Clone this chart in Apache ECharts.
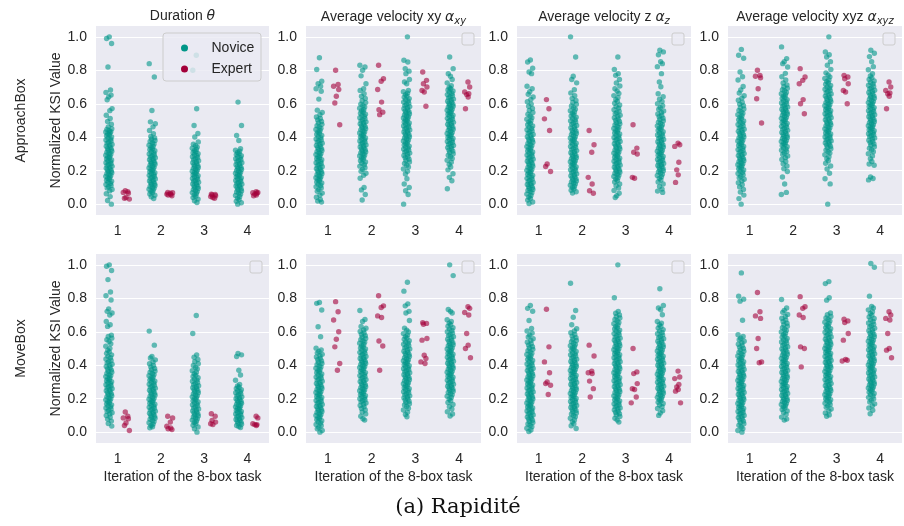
<!DOCTYPE html>
<html><head><meta charset="utf-8">
<script src="https://cdn.jsdelivr.net/npm/echarts@6/dist/echarts.min.js"></script>
<style>html,body{margin:0;padding:0;background:#fff}#c{width:904px;height:526px}</style>
</head><body><div id="c"></div>
<script>
const categories = ['1', '2', '3', '4'];
const yTicks = [0, 0.2, 0.4, 0.6, 0.8, 1.0];
const groups = ['Novice', 'Expert'];
const columnTitles = ['Duration {m|θ}', 'Average velocity xy {m|α}{s|xy}', 'Average velocity z {m|α}{s|z}', 'Average velocity xyz {m|α}{s|xyz}'];
const rowLabels = ['ApproachBox', 'MoveBox'];
const xAxisTitle = 'Iteration of the 8-box task';
const yAxisTitle = 'Normalized KSI Value';
const caption = '(a) Rapidité';

// ---- ApproachBox ----
const approachDurationNovice = [
 [1.0,0.99,0.96,0.82,0.683,0.668,0.652,0.641,0.624,0.571,0.559,0.531,0.512,0.494,0.478,0.462,0.451,0.446,0.439,0.433,0.431,0.427,0.42,0.414,0.409,0.401,0.396,0.388,0.383,0.377,0.37,0.364,0.357,0.352,0.346,0.339,0.333,0.328,0.321,0.316,0.31,0.303,0.298,0.292,0.287,0.281,0.276,0.27,0.264,0.259,0.253,0.248,0.242,0.237,0.231,0.226,0.22,0.215,0.209,0.204,0.198,0.193,0.188,0.182,0.177,0.171,0.166,0.16,0.154,0.149,0.143,0.137,0.131,0.124,0.118,0.111,0.104,0.097,0.088,0.079,0.062,0.045,0.022,0.0],
 [0.84,0.76,0.56,0.492,0.481,0.462,0.44,0.421,0.404,0.396,0.389,0.381,0.374,0.366,0.36,0.352,0.345,0.339,0.331,0.326,0.319,0.313,0.306,0.3,0.294,0.288,0.282,0.277,0.271,0.265,0.26,0.254,0.249,0.243,0.238,0.232,0.227,0.221,0.216,0.21,0.205,0.199,0.194,0.188,0.183,0.177,0.172,0.166,0.161,0.155,0.15,0.144,0.139,0.133,0.128,0.122,0.117,0.111,0.106,0.1,0.095,0.089,0.083,0.076,0.069,0.061,0.053,0.044,0.034],
 [0.89,0.8,0.57,0.47,0.422,0.401,0.372,0.358,0.349,0.341,0.334,0.327,0.32,0.313,0.307,0.301,0.295,0.289,0.283,0.277,0.271,0.265,0.259,0.253,0.247,0.242,0.236,0.23,0.225,0.219,0.214,0.208,0.203,0.197,0.192,0.186,0.181,0.175,0.17,0.164,0.159,0.153,0.148,0.142,0.137,0.131,0.126,0.12,0.115,0.109,0.104,0.098,0.093,0.087,0.081,0.075,0.069,0.062,0.055,0.047,0.039,0.03,0.02,0.01],
 [0.61,0.47,0.41,0.38,0.331,0.322,0.316,0.309,0.302,0.296,0.289,0.283,0.277,0.271,0.265,0.259,0.253,0.247,0.241,0.235,0.229,0.224,0.218,0.212,0.207,0.201,0.196,0.19,0.185,0.179,0.174,0.168,0.163,0.157,0.152,0.146,0.141,0.135,0.13,0.124,0.119,0.113,0.108,0.102,0.097,0.091,0.085,0.079,0.073,0.066,0.059,0.052,0.044,0.036,0.027,0.017,0.008,0.0]
];
const approachDurationExpert = [
 [0.08,0.075,0.07,0.065,0.04,0.035,0.03],
 [0.07,0.068,0.065,0.06,0.058,0.055,0.05],
 [0.06,0.058,0.055,0.05,0.045,0.04,0.035],
 [0.075,0.07,0.068,0.065,0.06,0.055,0.05]
];
const approachVelXYNovice = [
 [0.875,0.805,0.735,0.72,0.705,0.69,0.675,0.628,0.562,0.548,0.534,0.521,0.512,0.503,0.494,0.486,0.477,0.469,0.461,0.453,0.446,0.439,0.432,0.425,0.418,0.411,0.404,0.397,0.39,0.384,0.377,0.371,0.364,0.358,0.351,0.345,0.339,0.332,0.326,0.32,0.314,0.308,0.302,0.296,0.29,0.284,0.278,0.272,0.266,0.26,0.254,0.248,0.242,0.236,0.23,0.224,0.218,0.212,0.206,0.2,0.194,0.188,0.182,0.176,0.17,0.164,0.158,0.152,0.146,0.14,0.133,0.126,0.119,0.112,0.104,0.096,0.087,0.077,0.066,0.054,0.041,0.028,0.018,0.012],
 [0.83,0.82,0.8,0.767,0.72,0.69,0.68,0.66,0.645,0.632,0.618,0.607,0.598,0.589,0.581,0.573,0.565,0.558,0.551,0.544,0.537,0.53,0.524,0.517,0.511,0.504,0.498,0.492,0.486,0.48,0.474,0.468,0.462,0.456,0.45,0.444,0.438,0.432,0.426,0.42,0.414,0.408,0.402,0.396,0.39,0.384,0.378,0.372,0.366,0.36,0.354,0.348,0.342,0.336,0.33,0.324,0.318,0.312,0.306,0.3,0.294,0.288,0.281,0.274,0.267,0.26,0.252,0.244,0.236,0.227,0.218,0.208,0.197,0.185,0.172,0.155,0.1,0.085,0.058,0.025],
 [1.0,0.86,0.85,0.81,0.795,0.78,0.745,0.73,0.72,0.68,0.672,0.663,0.655,0.647,0.639,0.631,0.624,0.617,0.61,0.603,0.596,0.589,0.583,0.576,0.57,0.563,0.557,0.551,0.545,0.539,0.533,0.527,0.521,0.515,0.509,0.503,0.497,0.491,0.485,0.479,0.473,0.467,0.461,0.455,0.449,0.443,0.437,0.431,0.425,0.419,0.413,0.407,0.401,0.395,0.389,0.383,0.377,0.371,0.365,0.359,0.353,0.347,0.341,0.335,0.329,0.323,0.317,0.311,0.305,0.298,0.291,0.284,0.277,0.269,0.261,0.252,0.243,0.233,0.222,0.21,0.196,0.18,0.152,0.12,0.1,0.08,0.058,0.0],
 [0.88,0.81,0.78,0.765,0.745,0.725,0.708,0.698,0.69,0.683,0.676,0.669,0.662,0.655,0.648,0.641,0.635,0.628,0.622,0.615,0.609,0.603,0.597,0.591,0.585,0.579,0.573,0.567,0.561,0.555,0.549,0.543,0.537,0.531,0.525,0.519,0.513,0.507,0.501,0.495,0.489,0.483,0.477,0.471,0.465,0.459,0.453,0.447,0.441,0.435,0.429,0.423,0.417,0.411,0.405,0.399,0.393,0.387,0.381,0.375,0.369,0.363,0.357,0.351,0.345,0.338,0.331,0.324,0.317,0.309,0.301,0.292,0.283,0.273,0.262,0.25,0.237,0.222,0.205,0.182,0.16,0.14,0.092]
];
const approachVelXYExpert = [
 [0.8,0.715,0.705,0.685,0.645,0.605,0.475],
 [0.83,0.75,0.735,0.685,0.61,0.565,0.55,0.535],
 [0.79,0.74,0.72,0.7,0.68,0.67,0.585],
 [0.73,0.7,0.67,0.66,0.655,0.64,0.57]
];
const approachVelZNovice = [
 [0.862,0.85,0.812,0.79,0.78,0.705,0.69,0.672,0.657,0.641,0.626,0.612,0.598,0.585,0.572,0.56,0.548,0.537,0.527,0.517,0.508,0.499,0.491,0.483,0.475,0.467,0.459,0.452,0.445,0.438,0.431,0.424,0.417,0.41,0.403,0.396,0.389,0.383,0.376,0.37,0.363,0.357,0.35,0.344,0.337,0.331,0.324,0.318,0.312,0.305,0.299,0.293,0.287,0.28,0.274,0.268,0.262,0.256,0.25,0.244,0.238,0.232,0.226,0.22,0.214,0.208,0.202,0.196,0.19,0.184,0.178,0.172,0.166,0.16,0.154,0.148,0.142,0.136,0.13,0.124,0.118,0.112,0.106,0.1,0.094,0.088,0.082,0.075,0.068,0.06,0.052,0.043,0.034,0.024,0.013,0.004],
 [1.0,0.88,0.765,0.745,0.725,0.684,0.665,0.648,0.632,0.62,0.608,0.597,0.587,0.577,0.568,0.559,0.551,0.543,0.535,0.527,0.52,0.512,0.505,0.498,0.491,0.484,0.477,0.47,0.463,0.456,0.449,0.442,0.436,0.429,0.422,0.416,0.409,0.403,0.396,0.39,0.383,0.377,0.37,0.364,0.358,0.351,0.345,0.339,0.332,0.326,0.32,0.314,0.307,0.301,0.295,0.289,0.283,0.277,0.271,0.265,0.259,0.253,0.247,0.241,0.235,0.229,0.223,0.217,0.211,0.205,0.199,0.193,0.187,0.181,0.175,0.169,0.163,0.157,0.151,0.145,0.139,0.133,0.127,0.12,0.113,0.106,0.099,0.091,0.083,0.074,0.066],
 [0.88,0.805,0.78,0.77,0.745,0.724,0.706,0.69,0.676,0.662,0.649,0.637,0.625,0.614,0.603,0.593,0.583,0.574,0.565,0.556,0.548,0.54,0.532,0.524,0.516,0.509,0.501,0.494,0.487,0.48,0.473,0.466,0.459,0.452,0.445,0.439,0.432,0.425,0.419,0.412,0.406,0.399,0.393,0.386,0.38,0.374,0.367,0.361,0.355,0.348,0.342,0.336,0.33,0.323,0.317,0.311,0.305,0.299,0.293,0.287,0.281,0.275,0.269,0.263,0.257,0.251,0.245,0.239,0.233,0.227,0.221,0.215,0.209,0.203,0.197,0.191,0.185,0.179,0.172,0.165,0.158,0.15,0.141,0.132,0.121,0.11,0.097,0.082,0.065,0.05,0.04],
 [0.92,0.91,0.893,0.852,0.84,0.822,0.78,0.73,0.702,0.66,0.642,0.627,0.613,0.6,0.588,0.577,0.567,0.557,0.548,0.539,0.53,0.522,0.514,0.506,0.498,0.49,0.483,0.475,0.468,0.461,0.454,0.447,0.44,0.433,0.426,0.419,0.413,0.406,0.399,0.393,0.386,0.38,0.373,0.367,0.36,0.354,0.348,0.341,0.335,0.329,0.322,0.316,0.31,0.304,0.298,0.292,0.285,0.279,0.273,0.267,0.261,0.255,0.249,0.243,0.237,0.231,0.225,0.219,0.213,0.206,0.2,0.193,0.186,0.179,0.171,0.163,0.154,0.144,0.133,0.12,0.105,0.09,0.078,0.07]
];
const approachVelZExpert = [
 [0.625,0.57,0.51,0.44,0.24,0.225,0.195],
 [0.44,0.355,0.31,0.16,0.12,0.08,0.065],
 [0.475,0.335,0.31,0.3,0.16,0.155],
 [0.365,0.355,0.345,0.25,0.205,0.175,0.13]
];
const approachVelXYZNovice = [
 [0.925,0.89,0.872,0.79,0.762,0.742,0.703,0.682,0.664,0.648,0.634,0.621,0.609,0.598,0.588,0.578,0.569,0.56,0.551,0.543,0.535,0.527,0.519,0.512,0.504,0.497,0.49,0.483,0.476,0.469,0.462,0.455,0.448,0.442,0.435,0.428,0.422,0.415,0.409,0.402,0.396,0.389,0.383,0.377,0.37,0.364,0.358,0.351,0.345,0.339,0.333,0.326,0.32,0.314,0.308,0.302,0.296,0.29,0.284,0.278,0.272,0.266,0.26,0.254,0.248,0.242,0.236,0.23,0.224,0.218,0.211,0.204,0.197,0.19,0.183,0.175,0.167,0.158,0.149,0.139,0.128,0.116,0.103,0.088,0.072,0.054,0.033,0.0],
 [0.94,0.87,0.852,0.84,0.82,0.782,0.762,0.742,0.724,0.712,0.702,0.693,0.684,0.676,0.668,0.66,0.653,0.646,0.639,0.632,0.625,0.618,0.612,0.605,0.599,0.592,0.586,0.58,0.573,0.567,0.561,0.555,0.549,0.543,0.537,0.531,0.525,0.519,0.513,0.507,0.501,0.495,0.489,0.483,0.477,0.471,0.465,0.459,0.453,0.447,0.441,0.435,0.429,0.423,0.417,0.411,0.405,0.399,0.393,0.387,0.381,0.375,0.369,0.363,0.357,0.35,0.343,0.336,0.329,0.322,0.314,0.306,0.297,0.288,0.278,0.267,0.255,0.242,0.228,0.212,0.195,0.162,0.12,0.07,0.058],
 [1.0,0.91,0.893,0.88,0.852,0.83,0.805,0.785,0.772,0.761,0.751,0.742,0.733,0.725,0.717,0.709,0.701,0.694,0.687,0.68,0.673,0.666,0.659,0.652,0.646,0.639,0.633,0.626,0.62,0.613,0.607,0.601,0.595,0.588,0.582,0.576,0.57,0.564,0.558,0.552,0.546,0.54,0.534,0.528,0.522,0.516,0.51,0.504,0.498,0.492,0.486,0.48,0.474,0.468,0.462,0.456,0.45,0.444,0.438,0.432,0.426,0.42,0.414,0.408,0.402,0.396,0.39,0.384,0.378,0.372,0.366,0.36,0.353,0.346,0.339,0.331,0.323,0.314,0.305,0.295,0.284,0.272,0.259,0.244,0.228,0.21,0.185,0.152,0.121,0.0],
 [0.92,0.902,0.882,0.852,0.822,0.803,0.78,0.766,0.755,0.745,0.736,0.727,0.719,0.711,0.703,0.695,0.688,0.681,0.674,0.667,0.66,0.653,0.646,0.64,0.633,0.627,0.62,0.614,0.607,0.601,0.595,0.589,0.583,0.577,0.571,0.565,0.559,0.553,0.547,0.541,0.535,0.529,0.523,0.517,0.511,0.505,0.499,0.493,0.487,0.481,0.475,0.469,0.463,0.457,0.451,0.445,0.439,0.433,0.427,0.421,0.415,0.409,0.403,0.396,0.389,0.382,0.375,0.368,0.36,0.352,0.343,0.334,0.324,0.313,0.301,0.288,0.272,0.255,0.24,0.232,0.162,0.153,0.145]
];
const approachVelXYZExpert = [
 [0.8,0.77,0.765,0.755,0.69,0.63,0.485],
 [0.81,0.76,0.74,0.72,0.625,0.6,0.54],
 [0.77,0.76,0.75,0.72,0.68,0.67,0.6],
 [0.73,0.7,0.68,0.665,0.66,0.645,0.57]
];

// ---- MoveBox ----
const moveDurationNovice = [
 [1.0,0.992,0.966,0.912,0.838,0.815,0.79,0.737,0.722,0.712,0.7,0.662,0.642,0.632,0.58,0.572,0.562,0.553,0.542,0.528,0.514,0.501,0.49,0.48,0.471,0.462,0.453,0.445,0.437,0.429,0.421,0.414,0.406,0.399,0.392,0.385,0.378,0.371,0.364,0.358,0.351,0.344,0.338,0.332,0.325,0.319,0.313,0.307,0.301,0.295,0.289,0.283,0.277,0.271,0.265,0.259,0.253,0.247,0.241,0.235,0.229,0.223,0.217,0.211,0.205,0.199,0.193,0.187,0.181,0.175,0.169,0.163,0.157,0.151,0.145,0.138,0.131,0.124,0.116,0.108,0.099,0.089,0.078,0.066,0.052,0.036],
 [0.604,0.52,0.452,0.443,0.432,0.42,0.409,0.399,0.39,0.381,0.373,0.365,0.358,0.351,0.344,0.337,0.33,0.324,0.317,0.311,0.305,0.299,0.293,0.287,0.281,0.275,0.269,0.263,0.257,0.251,0.245,0.239,0.233,0.227,0.221,0.215,0.209,0.203,0.197,0.191,0.185,0.179,0.173,0.167,0.161,0.155,0.149,0.143,0.137,0.131,0.125,0.119,0.113,0.107,0.101,0.095,0.089,0.083,0.077,0.07,0.063,0.056,0.048,0.04,0.032,0.026],
 [0.697,0.59,0.462,0.448,0.434,0.421,0.409,0.398,0.387,0.377,0.367,0.358,0.349,0.341,0.333,0.325,0.318,0.311,0.304,0.297,0.29,0.284,0.277,0.271,0.265,0.259,0.253,0.247,0.241,0.235,0.229,0.223,0.217,0.211,0.205,0.199,0.193,0.187,0.181,0.175,0.169,0.163,0.157,0.151,0.145,0.139,0.133,0.127,0.121,0.115,0.109,0.103,0.097,0.091,0.085,0.079,0.072,0.065,0.058,0.05,0.041,0.031,0.02,0.0],
 [0.47,0.462,0.452,0.37,0.342,0.31,0.285,0.276,0.268,0.261,0.254,0.247,0.241,0.235,0.229,0.223,0.217,0.211,0.205,0.2,0.194,0.189,0.183,0.178,0.172,0.167,0.161,0.156,0.151,0.145,0.14,0.135,0.129,0.124,0.119,0.113,0.108,0.103,0.097,0.092,0.087,0.081,0.076,0.07,0.065,0.059,0.053,0.047,0.04,0.033,0.028]
];
const moveDurationExpert = [
 [0.12,0.095,0.085,0.08,0.055,0.04,0.01],
 [0.095,0.085,0.06,0.035,0.025,0.02,0.015],
 [0.11,0.095,0.07,0.06,0.05,0.045],
 [0.095,0.085,0.05,0.045,0.045,0.04]
];
const moveVelXYNovice = [
 [0.775,0.77,0.73,0.63,0.57,0.502,0.492,0.483,0.474,0.465,0.457,0.449,0.441,0.433,0.425,0.418,0.41,0.403,0.396,0.389,0.382,0.375,0.368,0.361,0.355,0.348,0.342,0.335,0.329,0.322,0.316,0.31,0.304,0.297,0.291,0.285,0.279,0.273,0.267,0.261,0.255,0.249,0.243,0.237,0.231,0.225,0.219,0.213,0.207,0.201,0.195,0.189,0.183,0.177,0.171,0.165,0.159,0.153,0.147,0.141,0.135,0.129,0.123,0.117,0.111,0.105,0.099,0.093,0.087,0.081,0.075,0.068,0.061,0.054,0.046,0.038,0.029,0.02,0.01,0.0],
 [0.727,0.674,0.662,0.632,0.621,0.611,0.602,0.593,0.584,0.576,0.568,0.56,0.552,0.545,0.538,0.531,0.524,0.517,0.51,0.503,0.497,0.49,0.484,0.477,0.471,0.465,0.458,0.452,0.446,0.44,0.434,0.428,0.422,0.416,0.41,0.404,0.398,0.392,0.386,0.38,0.374,0.368,0.362,0.356,0.35,0.344,0.338,0.332,0.326,0.32,0.314,0.308,0.302,0.296,0.29,0.284,0.278,0.272,0.266,0.26,0.254,0.248,0.242,0.236,0.23,0.224,0.218,0.212,0.206,0.2,0.194,0.188,0.181,0.174,0.167,0.159,0.151,0.142,0.132,0.121,0.109,0.095,0.08,0.072],
 [0.896,0.843,0.767,0.755,0.722,0.712,0.667,0.622,0.61,0.599,0.589,0.58,0.571,0.563,0.555,0.547,0.539,0.532,0.525,0.518,0.511,0.504,0.497,0.49,0.484,0.477,0.471,0.464,0.458,0.452,0.445,0.439,0.433,0.427,0.421,0.415,0.409,0.403,0.397,0.391,0.385,0.379,0.373,0.367,0.361,0.355,0.349,0.343,0.337,0.331,0.325,0.319,0.313,0.307,0.301,0.295,0.289,0.283,0.277,0.271,0.265,0.259,0.253,0.247,0.241,0.235,0.229,0.223,0.217,0.211,0.205,0.199,0.192,0.185,0.178,0.17,0.162,0.153,0.143,0.132,0.119,0.105,0.092],
 [1.0,0.936,0.733,0.722,0.712,0.672,0.662,0.652,0.642,0.633,0.624,0.616,0.608,0.6,0.592,0.584,0.577,0.57,0.563,0.556,0.549,0.542,0.535,0.529,0.522,0.516,0.509,0.503,0.497,0.49,0.484,0.478,0.472,0.466,0.46,0.454,0.448,0.442,0.436,0.43,0.424,0.418,0.412,0.406,0.4,0.394,0.388,0.382,0.376,0.37,0.364,0.358,0.352,0.346,0.34,0.334,0.328,0.322,0.316,0.31,0.304,0.298,0.292,0.286,0.28,0.274,0.268,0.262,0.256,0.25,0.244,0.237,0.23,0.223,0.215,0.207,0.198,0.188,0.177,0.165,0.152,0.138,0.122,0.108,0.096]
];
const moveVelXYExpert = [
 [0.78,0.72,0.67,0.6,0.555,0.51,0.41,0.37],
 [0.815,0.755,0.745,0.695,0.685,0.545,0.515,0.37],
 [0.655,0.65,0.645,0.56,0.55,0.46,0.44,0.42,0.41],
 [0.75,0.74,0.715,0.7,0.59,0.52,0.5,0.445]
];
const moveVelZNovice = [
 [0.757,0.74,0.723,0.667,0.62,0.605,0.592,0.58,0.569,0.558,0.548,0.538,0.529,0.52,0.511,0.503,0.495,0.487,0.479,0.471,0.464,0.456,0.449,0.442,0.435,0.428,0.421,0.414,0.407,0.4,0.394,0.387,0.381,0.374,0.368,0.361,0.355,0.349,0.342,0.336,0.33,0.324,0.318,0.312,0.306,0.3,0.294,0.288,0.282,0.276,0.27,0.264,0.258,0.252,0.246,0.24,0.234,0.228,0.222,0.216,0.21,0.204,0.198,0.192,0.186,0.18,0.174,0.168,0.162,0.156,0.15,0.144,0.138,0.132,0.126,0.12,0.114,0.108,0.102,0.096,0.09,0.084,0.078,0.071,0.064,0.057,0.049,0.041,0.032,0.023,0.013,0.004],
 [0.89,0.727,0.687,0.642,0.618,0.605,0.594,0.584,0.574,0.565,0.556,0.548,0.54,0.532,0.524,0.517,0.51,0.503,0.496,0.489,0.482,0.475,0.468,0.462,0.455,0.449,0.442,0.436,0.43,0.423,0.417,0.411,0.405,0.399,0.393,0.387,0.381,0.375,0.369,0.363,0.357,0.351,0.345,0.339,0.333,0.327,0.321,0.315,0.309,0.303,0.297,0.291,0.285,0.279,0.273,0.267,0.261,0.255,0.249,0.243,0.237,0.231,0.225,0.219,0.213,0.207,0.201,0.195,0.189,0.183,0.177,0.171,0.165,0.159,0.153,0.147,0.141,0.135,0.129,0.122,0.115,0.108,0.1,0.092,0.083,0.073,0.062,0.05,0.038,0.022],
 [1.0,0.803,0.722,0.711,0.701,0.691,0.682,0.673,0.664,0.656,0.648,0.64,0.632,0.625,0.617,0.61,0.603,0.596,0.589,0.582,0.575,0.568,0.562,0.555,0.549,0.542,0.536,0.53,0.523,0.517,0.511,0.505,0.499,0.493,0.487,0.481,0.475,0.469,0.463,0.457,0.451,0.445,0.439,0.433,0.427,0.421,0.415,0.409,0.403,0.397,0.391,0.385,0.379,0.373,0.367,0.361,0.355,0.349,0.343,0.337,0.331,0.325,0.319,0.313,0.307,0.301,0.295,0.289,0.283,0.277,0.271,0.265,0.259,0.253,0.247,0.241,0.235,0.229,0.223,0.217,0.211,0.205,0.199,0.193,0.187,0.181,0.175,0.169,0.163,0.157,0.151,0.145,0.139,0.132,0.125,0.118,0.11,0.102,0.093,0.083,0.072,0.06],
 [0.857,0.757,0.742,0.732,0.702,0.662,0.652,0.642,0.632,0.622,0.613,0.604,0.596,0.588,0.58,0.572,0.565,0.558,0.551,0.544,0.537,0.53,0.523,0.517,0.51,0.504,0.497,0.491,0.485,0.478,0.472,0.466,0.46,0.454,0.448,0.442,0.436,0.43,0.424,0.418,0.412,0.406,0.4,0.394,0.388,0.382,0.376,0.37,0.364,0.358,0.352,0.346,0.34,0.334,0.328,0.322,0.316,0.31,0.304,0.298,0.292,0.286,0.28,0.274,0.268,0.262,0.256,0.25,0.244,0.238,0.232,0.226,0.22,0.214,0.208,0.201,0.194,0.187,0.179,0.171,0.162,0.152,0.141,0.128,0.114,0.1]
];
const moveVelZExpert = [
 [0.735,0.51,0.42,0.355,0.3,0.29,0.28,0.225],
 [0.52,0.455,0.365,0.355,0.35,0.305,0.26,0.21],
 [0.5,0.36,0.35,0.29,0.26,0.255,0.21,0.175],
 [0.365,0.33,0.32,0.285,0.27,0.255,0.245,0.175]
];
const moveVelXYZNovice = [
 [0.952,0.813,0.795,0.783,0.669,0.582,0.572,0.562,0.552,0.543,0.534,0.525,0.516,0.508,0.5,0.492,0.484,0.477,0.469,0.462,0.455,0.448,0.441,0.434,0.427,0.421,0.414,0.407,0.401,0.394,0.388,0.382,0.375,0.369,0.363,0.357,0.351,0.345,0.339,0.333,0.327,0.321,0.315,0.309,0.303,0.297,0.291,0.285,0.279,0.273,0.267,0.261,0.255,0.249,0.243,0.237,0.231,0.225,0.219,0.213,0.207,0.201,0.195,0.189,0.183,0.177,0.171,0.165,0.159,0.153,0.147,0.141,0.135,0.129,0.123,0.117,0.111,0.105,0.099,0.093,0.087,0.08,0.073,0.066,0.058,0.05,0.041,0.031,0.02,0.01,0.0],
 [0.793,0.742,0.728,0.716,0.704,0.692,0.681,0.671,0.661,0.651,0.642,0.633,0.624,0.615,0.607,0.599,0.591,0.583,0.575,0.568,0.56,0.553,0.546,0.539,0.532,0.525,0.518,0.511,0.505,0.498,0.492,0.485,0.479,0.472,0.466,0.46,0.454,0.447,0.441,0.435,0.429,0.423,0.417,0.411,0.405,0.399,0.393,0.387,0.381,0.375,0.369,0.363,0.357,0.351,0.345,0.339,0.333,0.327,0.321,0.315,0.309,0.303,0.297,0.291,0.285,0.279,0.273,0.267,0.261,0.255,0.249,0.243,0.237,0.231,0.225,0.219,0.213,0.207,0.201,0.195,0.189,0.183,0.177,0.171,0.165,0.158,0.151,0.144,0.136,0.127,0.117,0.105,0.09,0.078,0.072],
 [0.9,0.888,0.803,0.789,0.712,0.702,0.692,0.683,0.674,0.665,0.657,0.649,0.641,0.633,0.625,0.618,0.611,0.604,0.597,0.59,0.583,0.576,0.569,0.563,0.556,0.55,0.543,0.537,0.531,0.524,0.518,0.512,0.506,0.5,0.494,0.488,0.482,0.476,0.47,0.464,0.458,0.452,0.446,0.44,0.434,0.428,0.422,0.416,0.41,0.404,0.398,0.392,0.386,0.38,0.374,0.368,0.362,0.356,0.35,0.344,0.338,0.332,0.326,0.32,0.314,0.308,0.302,0.296,0.29,0.284,0.278,0.272,0.266,0.26,0.254,0.248,0.242,0.236,0.23,0.224,0.218,0.212,0.206,0.2,0.194,0.187,0.18,0.173,0.165,0.157,0.148,0.138,0.127,0.115,0.103,0.095],
 [1.008,0.986,0.813,0.752,0.742,0.731,0.72,0.709,0.699,0.689,0.68,0.671,0.662,0.653,0.645,0.637,0.629,0.621,0.613,0.606,0.598,0.591,0.584,0.577,0.57,0.563,0.556,0.549,0.543,0.536,0.53,0.523,0.517,0.511,0.504,0.498,0.492,0.486,0.48,0.474,0.468,0.462,0.456,0.45,0.444,0.438,0.432,0.426,0.42,0.414,0.408,0.402,0.396,0.39,0.384,0.378,0.372,0.366,0.36,0.354,0.348,0.342,0.336,0.33,0.324,0.318,0.312,0.306,0.3,0.294,0.288,0.282,0.276,0.27,0.264,0.258,0.252,0.245,0.238,0.231,0.224,0.216,0.208,0.199,0.19,0.18,0.169,0.157,0.144,0.131,0.11]
];
const moveVelXYZExpert = [
 [0.835,0.72,0.695,0.68,0.56,0.5,0.42,0.415],
 [0.81,0.75,0.74,0.7,0.685,0.51,0.5,0.39],
 [0.675,0.665,0.655,0.59,0.55,0.435,0.43,0.425],
 [0.72,0.7,0.68,0.67,0.59,0.5,0.49,0.445]
];

const panels = [
 [approachDurationNovice, approachDurationExpert],
 [approachVelXYNovice, approachVelXYExpert],
 [approachVelZNovice, approachVelZExpert],
 [approachVelXYZNovice, approachVelXYZExpert],
 [moveDurationNovice, moveDurationExpert],
 [moveVelXYNovice, moveVelXYExpert],
 [moveVelZNovice, moveVelZExpert],
 [moveVelXYZNovice, moveVelXYZExpert]
];

// ---- layout & style ----
const FONT = 'Liberation Sans, Arial, sans-serif';
const INK = '#262626';
const colLeft = [96, 306, 517, 728];
const colW = [173, 175, 174, 174];
const rowTop = [26, 254];
const rowH = 189;
const colors = ['#009688', '#A3003A'];
const jitter = [0.3, -2.4, 2.6, -1.0, 1.5, -3.0, 2.1, -0.3, -1.8, 3.1, 0.8, -2.7, 1.2, -1.4, 2.4, -0.7, 2.8, -2.1, 0.1, 1.8, -3.2, 0.9, -1.2];

const chart = echarts.init(document.getElementById('c'), null, {renderer: 'canvas'});
const grids = [], xAxes = [], yAxes = [], series = [], graphics = [];

for (let r = 0; r < 2; r++) {
  for (let c = 0; c < 4; c++) {
    const i = r * 4 + c;
    grids.push({left: colLeft[c], top: rowTop[r], width: colW[c], height: rowH, show: true, backgroundColor: '#EAEAF2', borderWidth: 0, containLabel: false});
    xAxes.push({type: 'category', gridIndex: i, data: categories,
      axisLine: {show: false}, axisTick: {show: false}, splitLine: {show: false},
      axisLabel: {fontSize: 14, color: INK, margin: 9, fontFamily: FONT},
      name: r === 1 ? xAxisTitle : '', nameLocation: 'middle', nameGap: 27,
      nameTextStyle: {fontSize: 14, color: INK, fontFamily: FONT}});
    yAxes.push({type: 'value', gridIndex: i, min: -0.065, max: 1.065,
      axisLine: {show: false}, axisTick: {show: false}, splitLine: {show: false},
      axisLabel: {customValues: yTicks, formatter: v => v.toFixed(1), fontSize: 14, color: INK, margin: 9, fontFamily: FONT},
      name: c === 0 ? yAxisTitle : '', nameLocation: 'middle', nameGap: 33,
      nameTextStyle: {fontSize: 14, color: INK, fontFamily: FONT}});
    series.push({type: 'scatter', xAxisIndex: i, yAxisIndex: i, data: [], silent: true, z: 1,
      markLine: {silent: true, z: 1, symbol: ['none', 'none'], label: {show: false},
        lineStyle: {color: '#ffffff', width: 1.2, type: 'solid'}, emphasis: {disabled: true},
        data: yTicks.map(v => ({yAxis: v}))}});
    const band = colW[c] / categories.length;
    groups.forEach((g, gi) => {
      const dodge = (gi === 0 ? -0.2 : 0.2) * band;
      const data = [];
      panels[i][gi].forEach((vals, ci) => {
        vals.forEach((v, k) => {
          data.push({value: [ci, v], symbolOffset: [dodge + jitter[(k + ci * 5 + gi * 3) % jitter.length], 0]});
        });
      });
      series.push({type: 'scatter', name: g, xAxisIndex: i, yAxisIndex: i, z: 2, silent: true,
        symbolSize: 5.4, itemStyle: {color: colors[gi], opacity: 0.6}, data});
    });
    if (i !== 0) {
      graphics.push({type: 'rect', z: 10, silent: true,
        shape: {x: colLeft[c] + colW[c] - 19, y: rowTop[r] + 7, width: 12, height: 12, r: 2},
        style: {fill: 'rgba(234,234,242,0.8)', stroke: '#cccccc', lineWidth: 1}});
    }
  }
}

graphics.push({type: 'rect', z: 10, silent: true,
  shape: {x: 163, y: 33, width: 98, height: 48, r: 3},
  style: {fill: 'rgba(234,234,242,0.8)', stroke: '#cccccc', lineWidth: 1}});

rowLabels.forEach((t, r) => {
  graphics.push({type: 'text', z: 10, x: 21, y: rowTop[r] + rowH / 2, rotation: Math.PI / 2,
    style: {text: t, fontSize: 14, fontFamily: FONT, fill: INK, align: 'center', verticalAlign: 'middle', textAlign: 'center', textVerticalAlign: 'middle'}});
});
graphics.push({type: 'text', z: 10, x: 458, y: 508,
  style: {text: caption, fontSize: 21, fontFamily: 'DejaVu Serif, serif', fill: '#111', align: 'center', verticalAlign: 'middle', textAlign: 'center', textVerticalAlign: 'middle'}});

const titles = columnTitles.map((t, c) => ({
  text: t, left: colLeft[c] + colW[c] / 2, top: 9, textAlign: 'center', padding: 0,
  textStyle: {fontSize: 14, fontWeight: 'normal', color: INK, fontFamily: FONT,
    rich: {
      m: {fontSize: 14, fontStyle: 'italic', color: INK, fontFamily: 'DejaVu Sans, sans-serif'},
      s: {fontSize: 10, fontStyle: 'italic', color: INK, fontFamily: 'DejaVu Sans, sans-serif', padding: [7, 0, 0, 0]}
    }}
}));

chart.setOption({
  animation: false,
  backgroundColor: '#ffffff',
  textStyle: {fontFamily: FONT},
  title: titles,
  legend: {data: groups, orient: 'vertical', left: 181, top: 41, padding: 0,
    itemWidth: 44, itemHeight: 7, itemGap: 7, icon: 'circle', selectedMode: false, z: 11,
    itemStyle: {opacity: 1},
    textStyle: {fontSize: 14, color: INK, fontFamily: FONT}},
  grid: grids, xAxis: xAxes, yAxis: yAxes, series: series,
  graphic: {elements: graphics}
});
</script>
</body></html>
